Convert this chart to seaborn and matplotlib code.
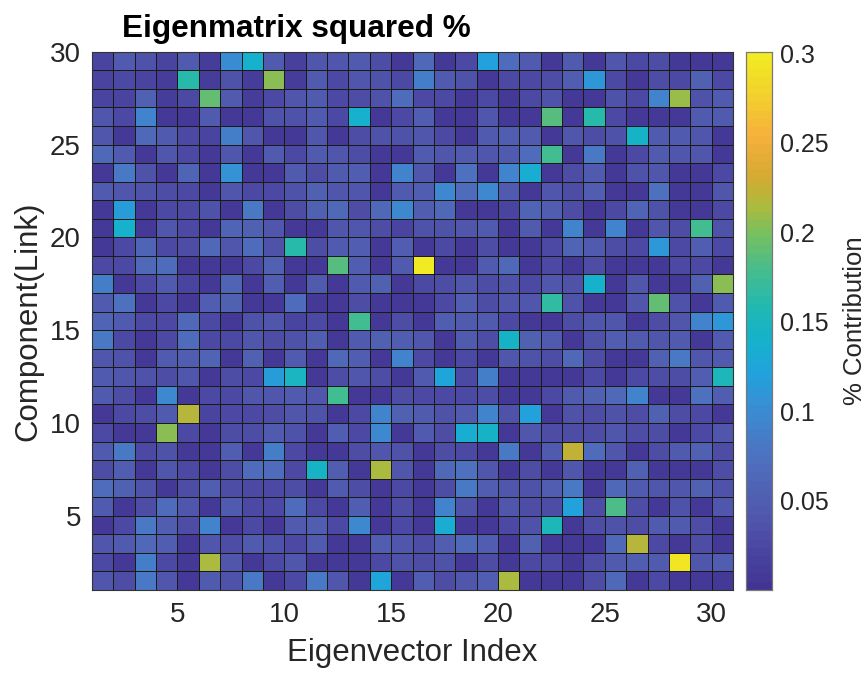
import numpy as np
import pandas as pd
import matplotlib
matplotlib.use("Agg")
import matplotlib.pyplot as plt
from matplotlib.colors import LinearSegmentedColormap
import seaborn as sns

# ---- data: squared eigenmatrix contributions, rows = component (link), read top (29) to bottom (1)
eigenvector_index = list(range(1, 31))
component_rows = list(range(29, 0, -1))

comp29 = [0.02, 0.045, 0.035, 0.02, 0.045, 0.01, 0.1, 0.14, 0.045, 0.015, 0.04, 0.04, 0.045, 0.03, 0.008, 0.065, 0.008, 0.025, 0.12, 0.07, 0.045, 0.008, 0.045, 0.008, 0.04, 0.025, 0.03, 0.008, 0.008, 0.008]
comp28 = [0.02, 0.025, 0.02, 0.01, 0.16, 0.01, 0.035, 0.01, 0.205, 0.01, 0.045, 0.025, 0.04, 0.035, 0.025, 0.085, 0.045, 0.035, 0.008, 0.025, 0.025, 0.03, 0.05, 0.11, 0.025, 0.008, 0.03, 0.025, 0.055, 0.025]
comp27 = [0.02, 0.02, 0.055, 0.01, 0.025, 0.19, 0.045, 0.01, 0.025, 0.04, 0.045, 0.025, 0.03, 0.035, 0.07, 0.025, 0.025, 0.008, 0.025, 0.008, 0.025, 0.035, 0.008, 0.008, 0.035, 0.025, 0.09, 0.21, 0.035, 0.045]
comp26 = [0.04, 0.025, 0.09, 0.008, 0.008, 0.045, 0.008, 0.008, 0.035, 0.035, 0.045, 0.025, 0.14, 0.008, 0.025, 0.05, 0.008, 0.008, 0.04, 0.008, 0.008, 0.185, 0.008, 0.16, 0.025, 0.008, 0.008, 0.008, 0.045, 0.045]
comp25 = [0.04, 0.008, 0.065, 0.045, 0.025, 0.02, 0.085, 0.04, 0.008, 0.008, 0.04, 0.008, 0.03, 0.035, 0.035, 0.04, 0.025, 0.008, 0.045, 0.05, 0.045, 0.008, 0.04, 0.03, 0.035, 0.145, 0.045, 0.045, 0.04, 0.008]
comp24 = [0.065, 0.045, 0.008, 0.04, 0.025, 0.008, 0.04, 0.008, 0.045, 0.025, 0.045, 0.04, 0.03, 0.008, 0.008, 0.045, 0.04, 0.045, 0.04, 0.045, 0.07, 0.175, 0.008, 0.08, 0.008, 0.025, 0.045, 0.04, 0.04, 0.008]
comp23 = [0.008, 0.08, 0.035, 0.008, 0.06, 0.008, 0.105, 0.008, 0.008, 0.045, 0.03, 0.045, 0.05, 0.008, 0.09, 0.04, 0.008, 0.075, 0.008, 0.09, 0.135, 0.008, 0.03, 0.045, 0.008, 0.035, 0.04, 0.008, 0.008, 0.025]
comp22 = [0.045, 0.04, 0.035, 0.03, 0.025, 0.008, 0.04, 0.025, 0.025, 0.035, 0.055, 0.04, 0.04, 0.008, 0.045, 0.05, 0.095, 0.07, 0.095, 0.045, 0.008, 0.04, 0.03, 0.05, 0.008, 0.008, 0.075, 0.008, 0.008, 0.04]
comp21 = [0.008, 0.115, 0.008, 0.025, 0.025, 0.035, 0.008, 0.08, 0.008, 0.03, 0.055, 0.065, 0.03, 0.065, 0.095, 0.05, 0.065, 0.008, 0.008, 0.02, 0.06, 0.05, 0.03, 0.008, 0.025, 0.06, 0.035, 0.008, 0.008, 0.025]
comp20 = [0.008, 0.14, 0.008, 0.04, 0.025, 0.008, 0.06, 0.055, 0.04, 0.008, 0.008, 0.04, 0.04, 0.03, 0.02, 0.035, 0.035, 0.04, 0.045, 0.008, 0.045, 0.008, 0.09, 0.008, 0.09, 0.008, 0.04, 0.03, 0.175, 0.035]
comp19 = [0.008, 0.025, 0.06, 0.025, 0.03, 0.065, 0.04, 0.07, 0.035, 0.16, 0.03, 0.045, 0.05, 0.008, 0.05, 0.008, 0.025, 0.008, 0.03, 0.008, 0.008, 0.025, 0.06, 0.045, 0.03, 0.025, 0.11, 0.025, 0.05, 0.025]
comp18 = [0.025, 0.025, 0.065, 0.07, 0.008, 0.008, 0.008, 0.025, 0.055, 0.008, 0.008, 0.185, 0.05, 0.008, 0.045, 0.3, 0.008, 0.008, 0.045, 0.065, 0.008, 0.025, 0.008, 0.03, 0.008, 0.008, 0.008, 0.025, 0.025, 0.008]
comp17 = [0.085, 0.008, 0.025, 0.045, 0.02, 0.008, 0.06, 0.008, 0.05, 0.008, 0.045, 0.008, 0.045, 0.055, 0.008, 0.025, 0.03, 0.04, 0.03, 0.035, 0.025, 0.04, 0.035, 0.14, 0.008, 0.04, 0.008, 0.008, 0.055, 0.205]
comp16 = [0.045, 0.075, 0.008, 0.025, 0.008, 0.05, 0.055, 0.008, 0.008, 0.07, 0.008, 0.008, 0.03, 0.008, 0.008, 0.008, 0.025, 0.05, 0.03, 0.04, 0.04, 0.165, 0.035, 0.008, 0.008, 0.04, 0.19, 0.035, 0.008, 0.045]
comp15 = [0.06, 0.045, 0.025, 0.025, 0.065, 0.025, 0.008, 0.035, 0.04, 0.02, 0.025, 0.008, 0.175, 0.008, 0.03, 0.008, 0.05, 0.045, 0.045, 0.025, 0.008, 0.008, 0.03, 0.04, 0.04, 0.008, 0.03, 0.04, 0.09, 0.11]
comp14 = [0.08, 0.025, 0.008, 0.025, 0.07, 0.025, 0.025, 0.04, 0.03, 0.035, 0.05, 0.008, 0.045, 0.055, 0.05, 0.04, 0.008, 0.045, 0.03, 0.145, 0.055, 0.045, 0.008, 0.035, 0.05, 0.045, 0.04, 0.045, 0.008, 0.045]
comp13 = [0.04, 0.035, 0.008, 0.045, 0.05, 0.06, 0.008, 0.055, 0.008, 0.045, 0.008, 0.065, 0.05, 0.008, 0.09, 0.025, 0.008, 0.025, 0.008, 0.04, 0.035, 0.03, 0.065, 0.03, 0.008, 0.008, 0.055, 0.08, 0.04, 0.045]
comp12 = [0.045, 0.04, 0.035, 0.03, 0.04, 0.008, 0.03, 0.025, 0.115, 0.15, 0.008, 0.03, 0.04, 0.03, 0.008, 0.045, 0.125, 0.025, 0.085, 0.008, 0.008, 0.008, 0.008, 0.025, 0.008, 0.025, 0.03, 0.03, 0.05, 0.155]
comp11 = [0.045, 0.03, 0.008, 0.095, 0.008, 0.025, 0.025, 0.04, 0.04, 0.045, 0.04, 0.175, 0.008, 0.008, 0.03, 0.025, 0.025, 0.025, 0.03, 0.008, 0.008, 0.025, 0.045, 0.055, 0.065, 0.09, 0.008, 0.008, 0.075, 0.05]
comp10 = [0.008, 0.025, 0.03, 0.045, 0.218, 0.02, 0.025, 0.025, 0.03, 0.04, 0.035, 0.008, 0.025, 0.09, 0.055, 0.045, 0.035, 0.045, 0.09, 0.035, 0.12, 0.008, 0.035, 0.03, 0.035, 0.03, 0.055, 0.03, 0.025, 0.008]
comp9 = [0.025, 0.008, 0.008, 0.203, 0.025, 0.008, 0.03, 0.03, 0.045, 0.035, 0.008, 0.05, 0.025, 0.095, 0.008, 0.045, 0.03, 0.135, 0.145, 0.008, 0.04, 0.03, 0.03, 0.03, 0.04, 0.03, 0.03, 0.008, 0.025, 0.04]
comp8 = [0.045, 0.08, 0.025, 0.035, 0.008, 0.008, 0.05, 0.008, 0.085, 0.025, 0.008, 0.008, 0.03, 0.04, 0.035, 0.008, 0.03, 0.025, 0.008, 0.08, 0.008, 0.045, 0.222, 0.07, 0.04, 0.008, 0.03, 0.045, 0.055, 0.03]
comp7 = [0.03, 0.05, 0.008, 0.04, 0.025, 0.008, 0.03, 0.07, 0.07, 0.025, 0.145, 0.05, 0.008, 0.213, 0.04, 0.008, 0.065, 0.075, 0.04, 0.008, 0.03, 0.008, 0.04, 0.008, 0.008, 0.055, 0.008, 0.008, 0.008, 0.03]
comp6 = [0.07, 0.055, 0.035, 0.008, 0.03, 0.05, 0.03, 0.025, 0.025, 0.03, 0.008, 0.045, 0.03, 0.008, 0.025, 0.008, 0.03, 0.08, 0.05, 0.04, 0.035, 0.05, 0.08, 0.008, 0.065, 0.045, 0.04, 0.04, 0.055, 0.035]
comp5 = [0.045, 0.008, 0.03, 0.07, 0.04, 0.008, 0.045, 0.025, 0.025, 0.07, 0.025, 0.008, 0.05, 0.008, 0.03, 0.008, 0.09, 0.035, 0.008, 0.04, 0.03, 0.03, 0.12, 0.03, 0.18, 0.03, 0.008, 0.035, 0.008, 0.04]
comp4 = [0.008, 0.025, 0.08, 0.05, 0.03, 0.09, 0.008, 0.025, 0.008, 0.045, 0.05, 0.025, 0.095, 0.008, 0.025, 0.008, 0.135, 0.008, 0.008, 0.025, 0.035, 0.155, 0.008, 0.03, 0.035, 0.03, 0.045, 0.045, 0.03, 0.008]
comp3 = [0.04, 0.045, 0.065, 0.05, 0.008, 0.04, 0.03, 0.045, 0.035, 0.025, 0.045, 0.008, 0.008, 0.05, 0.04, 0.03, 0.05, 0.065, 0.05, 0.008, 0.055, 0.008, 0.008, 0.008, 0.065, 0.218, 0.025, 0.008, 0.03, 0.008]
comp2 = [0.025, 0.008, 0.085, 0.025, 0.008, 0.215, 0.04, 0.008, 0.025, 0.04, 0.008, 0.008, 0.008, 0.025, 0.035, 0.03, 0.035, 0.008, 0.03, 0.008, 0.025, 0.025, 0.008, 0.03, 0.045, 0.05, 0.045, 0.295, 0.04, 0.05]
comp1 = [0.04, 0.03, 0.08, 0.04, 0.008, 0.045, 0.035, 0.08, 0.008, 0.025, 0.08, 0.04, 0.008, 0.125, 0.008, 0.05, 0.03, 0.04, 0.05, 0.216, 0.008, 0.008, 0.008, 0.03, 0.065, 0.008, 0.025, 0.008, 0.008, 0.008]

x_tick_values = [5, 10, 15, 20, 25, 30]
y_tick_values = [5, 10, 15, 20, 25, 30]
cbar_ticks = [0.05, 0.1, 0.15, 0.2, 0.25, 0.3]
cbar_tick_labels = ["0.05", "0.1", "0.15", "0.2", "0.25", "0.3"]
vmin, vmax = 0.0, 0.301

rows = [comp29, comp28, comp27, comp26, comp25, comp24, comp23, comp22, comp21, comp20,
        comp19, comp18, comp17, comp16, comp15, comp14, comp13, comp12, comp11, comp10,
        comp9, comp8, comp7, comp6, comp5, comp4, comp3, comp2, comp1]
df = pd.DataFrame(rows, index=component_rows, columns=eigenvector_index)

# ---- parula-like colormap (as seen in the reference colorbar)
cmap_stops = [0.0, 0.02, 0.04, 0.06, 0.08, 0.10, 0.12, 0.14, 0.16, 0.18, 0.20,
              0.215, 0.232, 0.255, 0.28, 0.301]
cmap_colors = ["#423592", "#4a45a2", "#5058ac", "#5066b6", "#4a78c4", "#3a8cd2", "#22a2dc",
               "#14b2cc", "#22baae", "#48bc8c", "#78c060", "#aabb40", "#d4aa30", "#f6b03c",
               "#f2d22c", "#f2ea22"]
cmap = LinearSegmentedColormap.from_list(
    "parula_like", list(zip([(s - vmin) / (vmax - vmin) for s in cmap_stops], cmap_colors)), N=64)

sns.set_style("white")
plt.rcParams['font.family'] = ['Liberation Sans', 'DejaVu Sans']

W, H = 866, 675
fig = plt.figure(figsize=(W / 100, H / 100), dpi=100)
ax = fig.add_axes([92 / W, 1 - 590 / H, (733 - 92) / W, (590 - 51.7) / H])
cax = fig.add_axes([745.7 / W, 1 - 590 / H, 26 / W, (590 - 51.7) / H])

sns.heatmap(df, ax=ax, cbar_ax=cax, cmap=cmap, vmin=vmin, vmax=vmax,
            linewidths=0.6, linecolor="#1a1a1a", square=False,
            xticklabels=False, yticklabels=False)

nrows = len(component_rows)
ax.set_xticks([v - 1 for v in x_tick_values])
ax.set_xticklabels([str(v) for v in x_tick_values])
ax.set_yticks([nrows + 1 - v for v in y_tick_values])
ax.set_yticklabels([str(v) for v in y_tick_values], rotation=0)
ax.set_xlim(0, 30)
ax.set_ylim(nrows, 0)
ax.tick_params(axis='both', length=0, labelsize=20, colors="#262626")
ax.tick_params(axis='x', pad=9)
ax.tick_params(axis='y', pad=8)
for s in ax.spines.values():
    s.set_visible(True)
    s.set_color("#333333")
    s.set_linewidth(0.8)

ax.set_xlabel("Eigenvector Index", fontsize=22.5, color="#262626", labelpad=7)
ax.set_ylabel("Component(Link)", fontsize=22.5, color="#262626", labelpad=5)

cax.set_yticks(cbar_ticks)
cax.set_yticklabels(cbar_tick_labels)
cax.tick_params(direction='in', length=5, width=0.8, colors="#262626", labelsize=18, pad=6)
cax.tick_params(axis='y', color="#555555")
for s in cax.spines.values():
    s.set_visible(True)
    s.set_color("#777777")
    s.set_linewidth(0.8)
cax.set_ylabel("% Contribution", fontsize=18.5, color="#262626", labelpad=10)

fig.text(122 / W, 1 - 36.5 / H, "Eigenmatrix squared %", fontsize=22.7, fontweight='bold',
         color="black", ha='left', va='baseline')

fig.savefig("out.png", dpi=100)
